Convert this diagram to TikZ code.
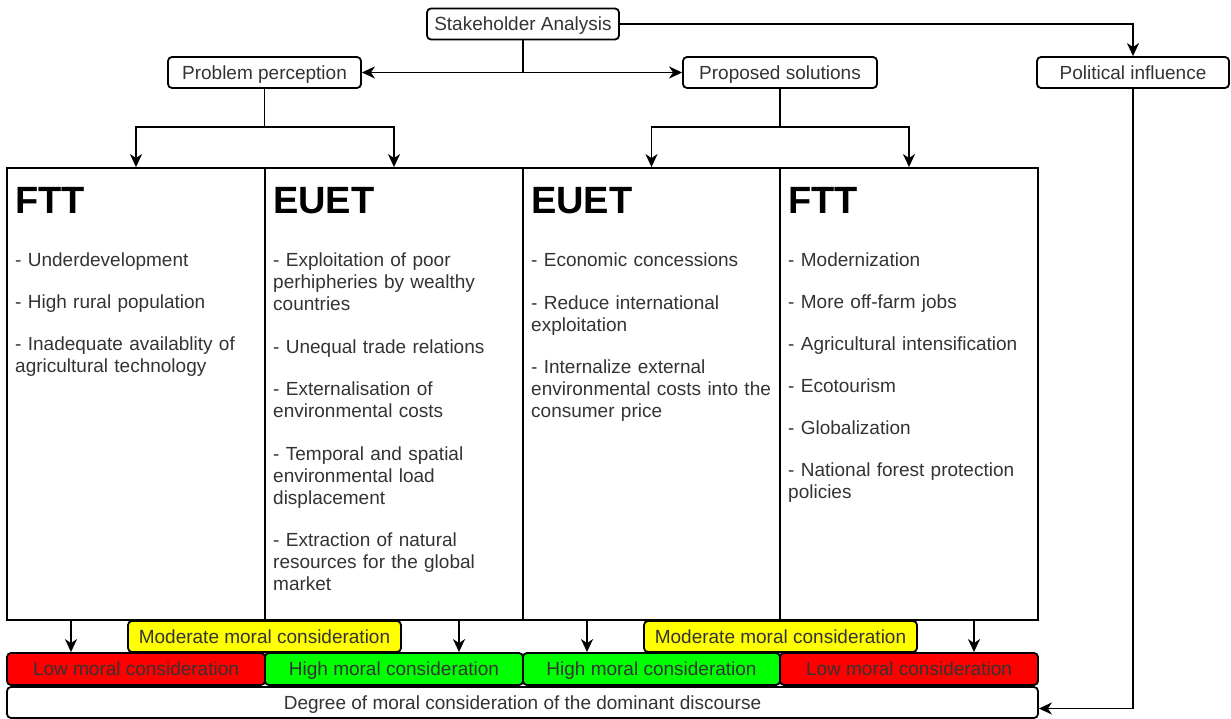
\documentclass[tikz,border=0pt]{standalone}
\usepackage{fontspec}
\setmainfont{Liberation Sans}
\usetikzlibrary{arrows.meta,calc}
\definecolor{txt}{HTML}{333333}
\definecolor{lowred}{HTML}{FF0000}
\definecolor{highgreen}{HTML}{00FF00}
\definecolor{modyellow}{HTML}{FFFF00}
\tikzset{
  base font/.style={font=\fontsize{19}{22}\selectfont},
  lbl/.style={draw, line width=1.8pt, rounded corners=4pt, inner sep=0pt, base font, text=txt, minimum height=31pt, text height=13.6pt, text depth=0pt},
  col/.style={draw, line width=1.8pt, inner sep=0pt, minimum width=258pt, minimum height=452pt},
  scale box/.style={draw, line width=1.8pt, rounded corners=4pt, inner sep=0pt, base font, text=txt, minimum height=32pt, text height=13.6pt, text depth=0pt},
  title/.style={anchor=base west, inner sep=0pt, font=\bfseries\fontsize{38}{40}\selectfont},
  items/.style={anchor=base west, inner sep=0pt, base font, text=txt, align=left, text width=248pt},
  conn/.style={line width=1.8pt},
  arr/.style={line width=1.8pt, -{Stealth[length=13pt,width=12pt,inset=4pt]}}
}
\begin{document}
\begin{tikzpicture}[x=1pt,y=-1pt]
\useasboundingbox (0,0) rectangle (1231,719);

% top labels
\node[lbl, minimum width=192pt] (sa) at (523,24) {Stakeholder Analysis};
\node[lbl, minimum width=193pt] (pp) at (264.5,72.5) {Problem perception};
\node[lbl, minimum width=194pt] (ps) at (780,72.5) {Proposed solutions};
\node[lbl, minimum width=192pt] (pi) at (1133,72.5) {Political influence};

% columns
\node[col] (c1) at (136,394) {};
\node[col] (c2) at (394,394) {};
\node[col, minimum width=257pt] (c3) at (651.5,394) {};
\node[col] (c4) at (909,394) {};

\node[title] (t1) at (15,213.3) {FTT};
\node[title] (t2) at (273,213.3) {EUET};
\node[title] (t3) at (531,213.3) {EUET};
\node[title] (t4) at (788,213.3) {FTT};

\node[items] (i1) at (15,266.7) {- Underdevelopment\\[20pt]
- High rural population\\[20pt]
- Inadequate availablity of\\agricultural technology};
\node[items] (i2) at (273,266.7) {- Exploitation of poor\\perhipheries by wealthy\\countries\\[20.5pt]
- Unequal trade relations\\[20.5pt]
- Externalisation of\\environmental costs\\[20.5pt]
- Temporal and spatial\\environmental load\\displacement\\[20.5pt]
- Extraction of natural\\resources for the global\\market};
\node[items] (i3) at (531,266.7) {- Economic concessions\\[20.5pt]
- Reduce international\\exploitation\\[20.5pt]
- Internalize external\\environmental costs into the\\consumer price};
\node[items] (i4) at (788,266.7) {- Modernization\\[20pt]
- More off-farm jobs\\[20pt]
- Agricultural intensification\\[20pt]
- Ecotourism\\[20pt]
- Globalization\\[20pt]
- National forest protection\\policies};

% moral consideration boxes
\node[scale box, fill=lowred, minimum width=258pt] (low1) at (136,669) {Low moral consideration};
\node[scale box, fill=highgreen, minimum width=258pt] (high1) at (394,669) {High moral consideration};
\node[scale box, fill=highgreen, minimum width=257pt] (high2) at (651.5,669) {High moral consideration};
\node[scale box, fill=lowred, minimum width=258pt] (low2) at (909,669) {Low moral consideration};
\node[scale box, fill=modyellow, minimum width=273pt, minimum height=31pt] (mod1) at (264.5,636.5) {Moderate moral consideration};
\node[scale box, fill=modyellow, minimum width=273pt, minimum height=31pt] (mod2) at (780.5,636.5) {Moderate moral consideration};
\node[scale box, fill=white, minimum width=1031pt, minimum height=31pt] (deg) at (522.5,702.5) {Degree of moral consideration of the dominant discourse};

% connectors
\coordinate (j1) at (264.5,127);
\coordinate (j2) at (780,127);
\draw[arr] (sa.south) |- (pp.east);
\draw[arr] (sa.south) |- (ps.west);
\draw[arr] (sa.east) -| (pi.north);
\draw[conn] (pp.south) -- (j1);
\draw[arr] (j1) -| (c1.north);
\draw[arr] (j1) -| (c2.north);
\draw[conn] (ps.south) -- (j2);
\draw[arr] (j2) -| (c3.north);
\draw[arr] (j2) -| (c4.north);
\draw[arr] ([xshift=-65pt]c1.south) -- ([xshift=-65pt]low1.north);
\draw[arr] ([xshift=65pt]c2.south) -- ([xshift=65pt]high1.north);
\draw[arr] ([xshift=-64.5pt]c3.south) -- ([xshift=-64.5pt]high2.north);
\draw[arr] ([xshift=65pt]c4.south) -- ([xshift=65pt]low2.north);
\draw[arr] (pi.south) |- ([yshift=-6pt]deg.east);
\end{tikzpicture}
\end{document}
